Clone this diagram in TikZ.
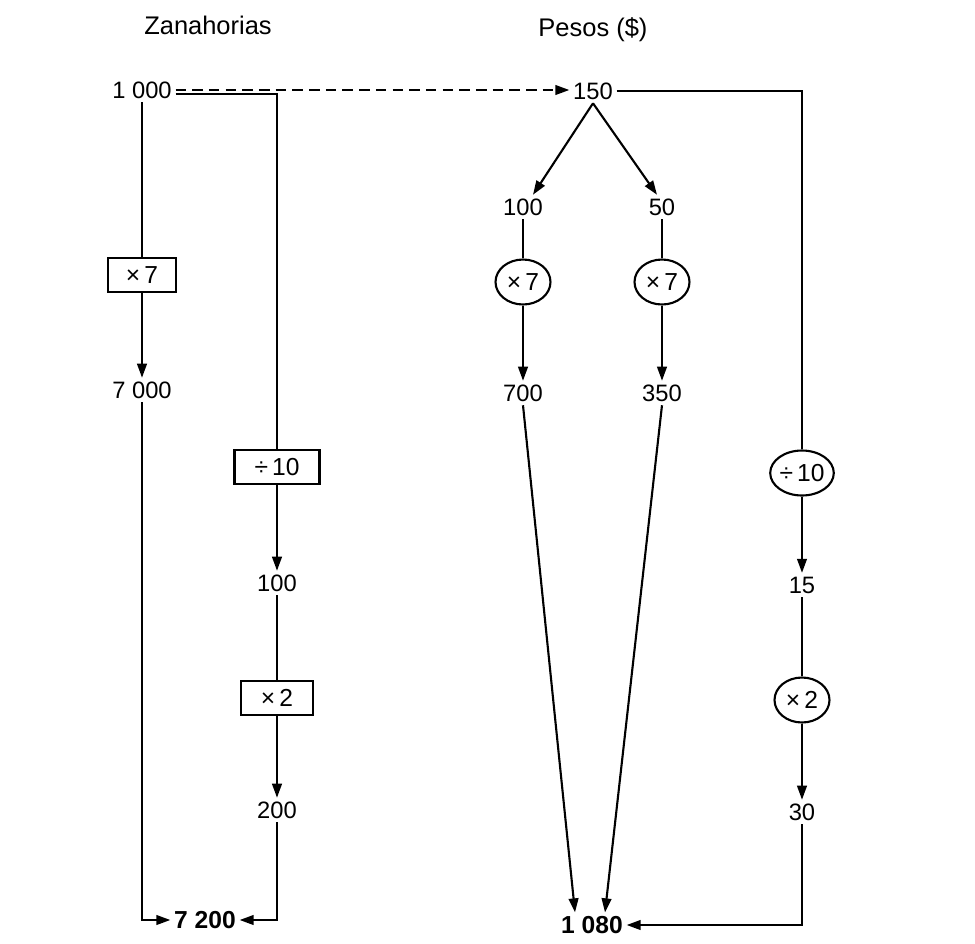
\documentclass[tikz,border=0pt]{standalone}
\usepackage{fontspec}
\setmainfont{Liberation Sans}
\usetikzlibrary{arrows.meta,positioning,shapes.geometric}
\tikzset{
  head/.style={font=\fontsize{14.5}{16}\selectfont, inner sep=2pt},
  num/.style={font=\fontsize{13.5}{15}\selectfont, inner sep=2pt},
  total/.style={font=\fontsize{14}{15}\selectfont\bfseries, inner sep=2pt},
  opbox/.style={draw, line width=1.2pt, font=\fontsize{14}{15}\selectfont, minimum height=0.68cm, inner sep=1pt},
  opcirc/.style={draw, ellipse, line width=1.2pt, font=\fontsize{14}{15}\selectfont, minimum width=1.1cm, minimum height=0.9cm, inner sep=0pt},
  arrow/.style={-{Triangle[length=8pt,width=5.5pt]}, line width=1.2pt},
  line/.style={line width=1.2pt},
  dasharrow/.style={arrow, dash pattern=on 6pt off 3.5pt}
}

\begin{document}
\begin{tikzpicture}[x=0.02cm, y=-0.02cm]
\useasboundingbox (0,0) rectangle (975,944);
% headings
\node[head] (zhead) at (208,25) {Zanahorias};
\node[head] (phead) at (593,30) {Pesos (\$)};
% carrots, first route
\node[num] (z1000) at (142,90) {1 000};
\node[opbox, minimum width=1.36cm] (zx7) at (142,275) {×\,7};
\node[num] (z7000) at (142,390) {7 000};
% carrots, second route
\node[opbox, minimum width=1.7cm] (zdiv) at (277,467) {÷\,10};
\node[num] (z100) at (277,583) {100};
\node[opbox, minimum width=1.44cm] (zx2) at (277,698) {×\,2};
\node[num] (z200) at (277,810) {200};
\node[total] (z7200) at (205,920) {7 200};
% pesos
\node[num] (p150) at (593,91) {150};
\node[num] (p100) at (523,207) {100};
\node[num] (p50) at (662,207) {50};
\node[opcirc] (pa) at (523,282) {×\,7};
\node[opcirc] (pb) at (662,282) {×\,7};
\node[num] (p700) at (523,393) {700};
\node[num] (p350) at (662,393) {350};
\node[opcirc] (pdiv) at (802,473) {÷\,10};
\node[num] (p15) at (802,585) {15};
\node[opcirc] (px2) at (802,700) {×\,2};
\node[num] (p30) at (802,812) {30};
\node[total] (p1080) at (592,925) {1 080};
% left connectors
\draw[dasharrow] (z1000.east) -- (z1000.east -| p150.west);
\draw[line] ([yshift=-2.5pt]z1000.east) -| (zdiv.north);
\draw[line] (z1000.south) -- (zx7.north);
\draw[arrow] (zx7.south) -- (z7000.north);
\draw[arrow] (z7000.south) |- (z7200.west);
\draw[arrow] (zdiv.south) -- (z100.north);
\draw[line] (z100.south) -- (zx2.north);
\draw[arrow] (zx2.south) -- (z200.north);
\draw[arrow] (z200.south) |- (z7200.east);
% right connectors
\draw[arrow] (p150.south) -- ([xshift=0.2cm]p100.north);
\draw[arrow] (p150.south) -- ([xshift=-0.1cm]p50.north);
\draw[line] (p100.south) -- (pa.north);
\draw[line] (p50.south) -- (pb.north);
\draw[arrow] (pa.south) -- (p700.north);
\draw[arrow] (pb.south) -- (p350.north);
\draw[arrow] (p700.south) -- ([xshift=-0.34cm]p1080.north);
\draw[arrow] (p350.south) -- ([xshift=0.26cm]p1080.north);
\draw[line] (p150.east) -| (pdiv.north);
\draw[arrow] (pdiv.south) -- (p15.north);
\draw[line] (p15.south) -- (px2.north);
\draw[arrow] (px2.south) -- (p30.north);
\draw[arrow] (p30.south) |- (p1080.east);
\end{tikzpicture}
\end{document}
